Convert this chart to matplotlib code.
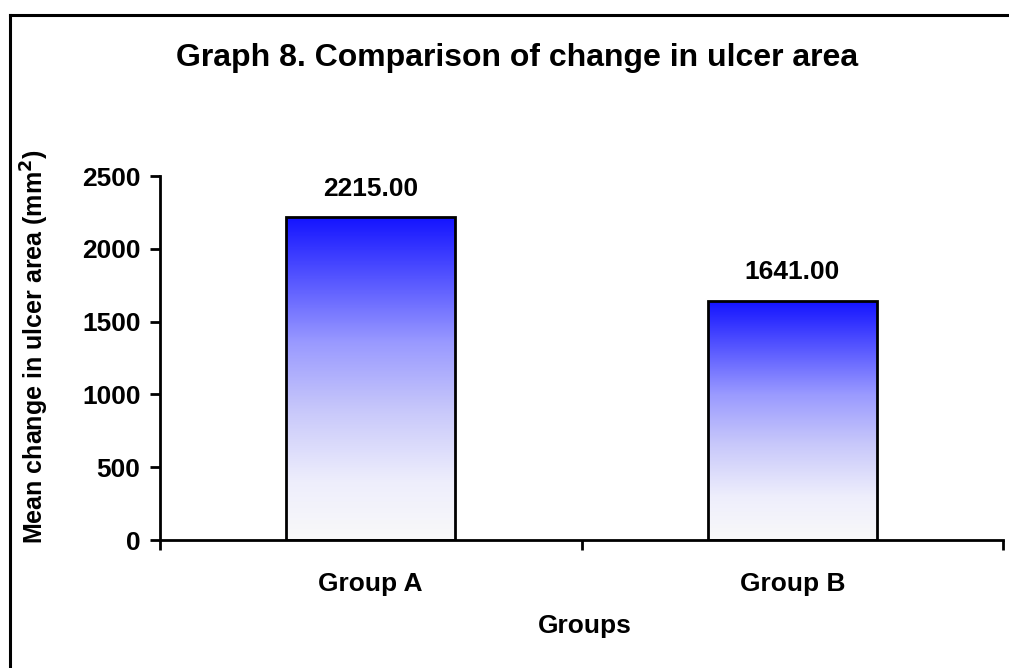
import numpy as np
import matplotlib
matplotlib.use("Agg")
import matplotlib.pyplot as plt
from matplotlib.colors import LinearSegmentedColormap
from matplotlib.lines import Line2D

groups = ["Group A", "Group B"]
mean_change = [2215.00, 1641.00]
y_ticks = [0, 500, 1000, 1500, 2000, 2500]

plt.rcParams["font.family"] = ["Liberation Sans", "DejaVu Sans"]
plt.rcParams["font.weight"] = "bold"

fig = plt.figure(figsize=(10.09, 6.68), dpi=100)
W, H = 1009, 668
ax = fig.add_axes([160 / W, 1 - 540 / H, (1003 - 160) / W, (540 - 176) / H])

# blue at the top of each bar fading to white at the base
fade = LinearSegmentedColormap.from_list("fade", [
    (0.0, "#f9f9f9"), (0.18, "#eeeefc"), (0.4, "#c8c8fa"),
    (0.61, "#9a9aff"), (0.75, "#6a6aff"), (1.0, "#1414ff")])
grad = np.linspace(0, 1, 256).reshape(-1, 1)

x = np.arange(len(groups))
bar_w = 0.4
bars = ax.bar(x, mean_change, width=bar_w, facecolor="none", edgecolor="black",
              linewidth=2, zorder=3)
for xi, h in zip(x, mean_change):
    ax.imshow(grad, cmap=fade, origin="lower", aspect="auto", zorder=2,
              extent=(xi - bar_w / 2, xi + bar_w / 2, 0, h))

for xi, h in zip(x, mean_change):
    ax.annotate(f"{h:.2f}", (xi, h), xytext=(0, 12), textcoords="offset points",
                ha="center", va="bottom", fontsize=19, fontweight="bold")

ax.set_xlim(-0.5, len(groups) - 0.5)
ax.set_ylim(0, 2500)
ax.set_yticks(y_ticks)
ax.set_xticks(x)
ax.set_xticklabels(groups)
ax.set_xticks(np.arange(len(groups) + 1) - 0.5, minor=True)

for s in ["top", "right"]:
    ax.spines[s].set_visible(False)
for s in ["left", "bottom"]:
    ax.spines[s].set_linewidth(2)
ax.tick_params(axis="y", direction="out", length=7, width=2, pad=7, labelsize=19)
ax.tick_params(axis="x", which="major", length=0, pad=23, labelsize=19)
ax.tick_params(axis="x", which="minor", direction="out", length=7, width=2)
for lbl in ax.get_xticklabels() + ax.get_yticklabels():
    lbl.set_fontweight("bold")

fig.text(517 / W, 1 - 58 / H, "Graph 8. Comparison of change in ulcer area",
         ha="center", va="center", fontsize=23, fontweight="bold")
fig.text(35 / W, 1 - 347 / H, "Mean change in ulcer area (mm$^\\mathbf{2}$)",
         rotation=90, ha="center", va="center", fontsize=18, fontweight="bold")
fig.text(585 / W, 1 - 626 / H, "Groups", ha="center", va="center",
         fontsize=19, fontweight="bold")

# outer frame (left and top edges)
fig.add_artist(Line2D([10 / W, 10 / W], [0, 1 - 15 / H], color="black", lw=2.2,
                      transform=fig.transFigure))
fig.add_artist(Line2D([10 / W, 1], [1 - 15 / H, 1 - 15 / H], color="black", lw=2.2,
                      transform=fig.transFigure))

fig.savefig("out.png", dpi=100)
